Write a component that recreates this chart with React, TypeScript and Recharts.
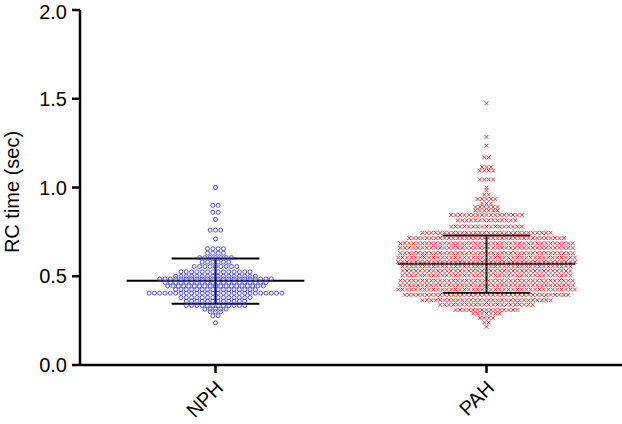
import React from 'react';
import { ScatterChart, Scatter, XAxis, YAxis, ReferenceLine, Label } from 'recharts';

// groups and summary stats (mean, mean +/- SD)
const groups = ['NPH', 'PAH'];
const groupMeans = [0.475, 0.57];
const groupSdHigh = [0.6, 0.73];
const groupSdLow = [0.345, 0.405];

// swarm rows: value of each row and how many points sit in it
const nphRowValues = [
  1.0, 0.9, 0.86, 0.82, 0.76, 0.71, 0.655, 0.63, 0.605, 0.58, 0.555, 0.525, 0.5, 0.485,
  0.465, 0.445, 0.425, 0.405, 0.38, 0.36, 0.335, 0.315, 0.3, 0.277, 0.238,
];
const nphRowCounts = [
  1, 2, 2, 1, 3, 1, 4, 4, 7, 6, 9, 14, 16, 22,
  20, 19, 16, 26, 14, 12, 12, 5, 3, 2, 1,
];
const pahRowValues = [
  1.475, 1.285, 1.235, 1.17, 1.115, 1.095, 1.045, 1.0, 0.985, 0.96, 0.935, 0.91, 0.89, 0.87,
  0.845, 0.815, 0.78, 0.745, 0.715, 0.685, 0.66, 0.63, 0.605, 0.58, 0.555, 0.53, 0.505, 0.475,
  0.45, 0.425, 0.395, 0.365, 0.34, 0.31, 0.29, 0.265, 0.24, 0.215,
];
const pahRowCounts = [
  1, 1, 1, 2, 3, 4, 4, 1, 1, 2, 5, 3, 6, 6,
  17, 14, 17, 30, 36, 40, 40, 40, 41, 41, 39, 39, 39, 40,
  40, 41, 38, 30, 22, 15, 7, 4, 2, 1,
];

const yTicks = [0, 0.5, 1.0, 1.5, 2.0];
const xTicks = [0.5, 1.5];

const FONT = '"Liberation Sans", Arial, Helvetica, sans-serif';
const BLUE = '#3e3ed8';
const RED = '#e8353c';

// lay each row out side by side around the group centre
const swarm = (values: number[], counts: number[], center: number, step: number) => {
  const pts: { x: number; y: number }[] = [];
  values.forEach((v, r) => {
    const n = counts[r];
    for (let i = 0; i < n; i++) {
      pts.push({ x: center + (i - (n - 1) / 2) * step, y: v });
    }
  });
  return pts;
};

const nphPoints = swarm(nphRowValues, nphRowCounts, xTicks[0], 0.0196);
const pahPoints = swarm(pahRowValues, pahRowCounts, xTicks[1], 0.0163);

const Circle = (props: any) => (
  <circle cx={props.cx} cy={props.cy} r={2} fill="none" stroke={BLUE} strokeWidth={0.9} />
);

const Cross = (props: any) => {
  const { cx, cy } = props;
  const s = 1.9;
  return (
    <g stroke={RED} strokeWidth={1}>
      <line x1={cx - s} y1={cy - s} x2={cx + s} y2={cy + s} />
      <line x1={cx - s} y1={cy + s} x2={cx + s} y2={cy - s} />
    </g>
  );
};

const CatTick = (props: any) => {
  const { x, y, payload } = props;
  const idx = xTicks.indexOf(payload.value);
  const ax = x + 9;
  const ay = y + 14;
  return (
    <text
      x={ax}
      y={ay}
      transform={`rotate(-45 ${ax} ${ay})`}
      textAnchor="end"
      fontSize={20}
      fontFamily={FONT}
      fill="#000"
    >
      {groups[idx]}
    </text>
  );
};

const MEAN_HALF = 0.328;
const CAP_HALF = 0.162;

export default function App() {
  return (
    <div style={{ position: 'absolute', left: 0, top: 0, background: '#fff', fontFamily: FONT }}>
      <ScatterChart width={622} height={424} margin={{ top: 10, right: 0, bottom: 0, left: 0 }}>
        <XAxis
          type="number"
          dataKey="x"
          domain={[0, 2]}
          ticks={xTicks}
          allowDataOverflow
          axisLine={{ stroke: '#000', strokeWidth: 2.5 }}
          tickLine={{ stroke: '#000', strokeWidth: 2.5 }}
          tickSize={8}
          height={59}
          tick={<CatTick />}
          interval={0}
        />
        <YAxis
          type="number"
          dataKey="y"
          domain={[0, 2]}
          ticks={yTicks}
          width={80}
          axisLine={{ stroke: '#000', strokeWidth: 2.5 }}
          tickLine={{ stroke: '#000', strokeWidth: 2.5 }}
          tickSize={8}
          tickMargin={5}
          tickFormatter={(v: number) => v.toFixed(1)}
          tick={{ fill: '#000', fontSize: 20, fontFamily: FONT }}
        >
          <Label
            content={() => (
              <text
                x={18.5}
                y={192}
                transform="rotate(-90 18.5 192)"
                textAnchor="middle"
                fontSize={20}
                fontFamily={FONT}
                fill="#000"
              >
                RC time (sec)
              </text>
            )}
          />
        </YAxis>
        <Scatter data={nphPoints} shape={<Circle />} isAnimationActive={false} />
        <Scatter data={pahPoints} shape={<Cross />} isAnimationActive={false} />
        {xTicks.map((c, i) => (
          <React.Fragment key={groups[i]}>
            <ReferenceLine
              segment={[{ x: c - MEAN_HALF, y: groupMeans[i] }, { x: c + MEAN_HALF, y: groupMeans[i] }]}
              stroke="#000"
              strokeWidth={2}
            />
            <ReferenceLine
              segment={[{ x: c - CAP_HALF, y: groupSdHigh[i] }, { x: c + CAP_HALF, y: groupSdHigh[i] }]}
              stroke="#000"
              strokeWidth={2}
            />
            <ReferenceLine
              segment={[{ x: c - CAP_HALF, y: groupSdLow[i] }, { x: c + CAP_HALF, y: groupSdLow[i] }]}
              stroke="#000"
              strokeWidth={2}
            />
            <ReferenceLine
              segment={[{ x: c, y: groupSdLow[i] }, { x: c, y: groupSdHigh[i] }]}
              stroke="#000"
              strokeWidth={2}
            />
          </React.Fragment>
        ))}
      </ScatterChart>
    </div>
  );
}
